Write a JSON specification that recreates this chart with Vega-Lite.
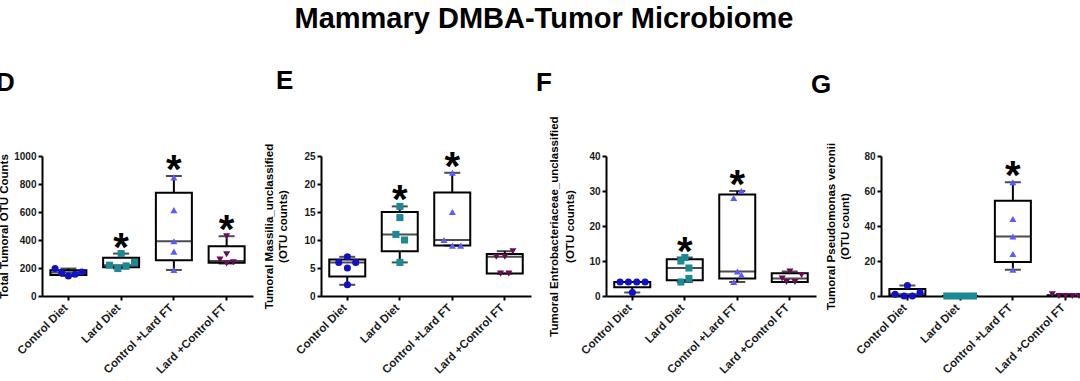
{
  "$schema": "https://vega.github.io/schema/vega-lite/v6.json",
  "padding": {"left": -4, "top": 5, "right": 0, "bottom": 0},
  "background": "white",
  "title": {"text": "Mammary DMBA-Tumor Microbiome", "font": "Liberation Sans", "fontSize": 29, "fontWeight": "bold", "color": "black", "anchor": "middle", "offset": 34},
  "datasets": {
    "boxes": [
      {"panel": "D", "group": "Control Diet", "min": 143, "q1": 150, "median": 167, "q3": 184, "max": 196, "sig": ""},
      {"panel": "D", "group": "Lard Diet", "min": 196, "q1": 205, "median": 220, "q3": 274, "max": 303, "sig": "*"},
      {"panel": "D", "group": "Control +Lard FT", "min": 186, "q1": 255, "median": 391, "q3": 737, "max": 857, "sig": "*"},
      {"panel": "D", "group": "Lard +Control FT", "min": 232, "q1": 238, "median": 250, "q3": 356, "max": 427, "sig": "*"},
      {"panel": "E", "group": "Control Diet", "min": 2, "q1": 3.5, "median": 6, "q3": 6.5, "max": 7, "sig": ""},
      {"panel": "E", "group": "Lard Diet", "min": 6, "q1": 8, "median": 11, "q3": 15, "max": 16, "sig": "*"},
      {"panel": "E", "group": "Control +Lard FT", "min": 9, "q1": 9, "median": 10, "q3": 18.5, "max": 22, "sig": "*"},
      {"panel": "E", "group": "Lard +Control FT", "min": 4, "q1": 4, "median": 7, "q3": 7.5, "max": 8, "sig": ""},
      {"panel": "F", "group": "Control Diet", "min": 1, "q1": 2.5, "median": 4, "q3": 4, "max": 4, "sig": ""},
      {"panel": "F", "group": "Lard Diet", "min": 4, "q1": 4.5, "median": 8, "q3": 10.5, "max": 11, "sig": "*"},
      {"panel": "F", "group": "Control +Lard FT", "min": 4, "q1": 5, "median": 7, "q3": 29, "max": 30, "sig": "*"},
      {"panel": "F", "group": "Lard +Control FT", "min": 4, "q1": 4, "median": 5, "q3": 6.5, "max": 7, "sig": ""},
      {"panel": "G", "group": "Control Diet", "min": 0, "q1": 0, "median": 1, "q3": 4, "max": 6, "sig": ""},
      {"panel": "G", "group": "Lard Diet", "min": 0, "q1": 0, "median": 0, "q3": 0, "max": 0, "sig": ""},
      {"panel": "G", "group": "Control +Lard FT", "min": 15, "q1": 19.5, "median": 34, "q3": 54.5, "max": 65, "sig": "*"},
      {"panel": "G", "group": "Lard +Control FT", "min": 0, "q1": 0, "median": 0, "q3": 0.5, "max": 1, "sig": ""}
    ],
    "pts": [
      {"panel": "D", "group": "Control Diet", "value": 196, "col": -2},
      {"panel": "D", "group": "Control Diet", "value": 167, "col": -1},
      {"panel": "D", "group": "Control Diet", "value": 143, "col": 0},
      {"panel": "D", "group": "Control Diet", "value": 155, "col": 1},
      {"panel": "D", "group": "Control Diet", "value": 172, "col": 2},
      {"panel": "D", "group": "Lard Diet", "value": 220, "col": -1.75},
      {"panel": "D", "group": "Lard Diet", "value": 196, "col": -0.5},
      {"panel": "D", "group": "Lard Diet", "value": 303, "col": 0},
      {"panel": "D", "group": "Lard Diet", "value": 215, "col": 0.75},
      {"panel": "D", "group": "Lard Diet", "value": 239, "col": 2},
      {"panel": "D", "group": "Control +Lard FT", "value": 847, "col": 0},
      {"panel": "D", "group": "Control +Lard FT", "value": 613, "col": 0},
      {"panel": "D", "group": "Control +Lard FT", "value": 391, "col": 0},
      {"panel": "D", "group": "Control +Lard FT", "value": 317, "col": 0},
      {"panel": "D", "group": "Control +Lard FT", "value": 186, "col": 0},
      {"panel": "D", "group": "Lard +Control FT", "value": 427, "col": 0},
      {"panel": "D", "group": "Lard +Control FT", "value": 298, "col": 0},
      {"panel": "D", "group": "Lard +Control FT", "value": 260, "col": -1},
      {"panel": "D", "group": "Lard +Control FT", "value": 232, "col": 0},
      {"panel": "D", "group": "Lard +Control FT", "value": 241, "col": 1},
      {"panel": "E", "group": "Control Diet", "value": 6, "col": -1.3},
      {"panel": "E", "group": "Control Diet", "value": 7, "col": 0},
      {"panel": "E", "group": "Control Diet", "value": 5, "col": 0},
      {"panel": "E", "group": "Control Diet", "value": 6, "col": 1.25},
      {"panel": "E", "group": "Control Diet", "value": 2, "col": 0},
      {"panel": "E", "group": "Lard Diet", "value": 16, "col": 0},
      {"panel": "E", "group": "Lard Diet", "value": 14, "col": 0},
      {"panel": "E", "group": "Lard Diet", "value": 11, "col": -0.6},
      {"panel": "E", "group": "Lard Diet", "value": 10, "col": 0.7},
      {"panel": "E", "group": "Lard Diet", "value": 6, "col": 0},
      {"panel": "E", "group": "Control +Lard FT", "value": 22, "col": 0},
      {"panel": "E", "group": "Control +Lard FT", "value": 15, "col": 0},
      {"panel": "E", "group": "Control +Lard FT", "value": 10, "col": -1.25},
      {"panel": "E", "group": "Control +Lard FT", "value": 9, "col": 0},
      {"panel": "E", "group": "Control +Lard FT", "value": 9, "col": 1.25},
      {"panel": "E", "group": "Lard +Control FT", "value": 7, "col": -1.3},
      {"panel": "E", "group": "Lard +Control FT", "value": 7, "col": 0},
      {"panel": "E", "group": "Lard +Control FT", "value": 8, "col": 1.2},
      {"panel": "E", "group": "Lard +Control FT", "value": 4, "col": -0.65},
      {"panel": "E", "group": "Lard +Control FT", "value": 4, "col": 0.6},
      {"panel": "F", "group": "Control Diet", "value": 4, "col": -1.85},
      {"panel": "F", "group": "Control Diet", "value": 4, "col": -0.6},
      {"panel": "F", "group": "Control Diet", "value": 4, "col": 0.65},
      {"panel": "F", "group": "Control Diet", "value": 4, "col": 1.9},
      {"panel": "F", "group": "Control Diet", "value": 1, "col": 0},
      {"panel": "F", "group": "Lard Diet", "value": 10, "col": -0.6},
      {"panel": "F", "group": "Lard Diet", "value": 11, "col": 0},
      {"panel": "F", "group": "Lard Diet", "value": 8, "col": 0.6},
      {"panel": "F", "group": "Lard Diet", "value": 4, "col": -0.6},
      {"panel": "F", "group": "Lard Diet", "value": 5, "col": 0.6},
      {"panel": "F", "group": "Control +Lard FT", "value": 28, "col": -0.55},
      {"panel": "F", "group": "Control +Lard FT", "value": 30, "col": 0.6},
      {"panel": "F", "group": "Control +Lard FT", "value": 7, "col": 0},
      {"panel": "F", "group": "Control +Lard FT", "value": 6, "col": 0.6},
      {"panel": "F", "group": "Control +Lard FT", "value": 4, "col": -0.55},
      {"panel": "F", "group": "Lard +Control FT", "value": 5, "col": -1.15},
      {"panel": "F", "group": "Lard +Control FT", "value": 7, "col": 0},
      {"panel": "F", "group": "Lard +Control FT", "value": 6, "col": 1.75},
      {"panel": "F", "group": "Lard +Control FT", "value": 4, "col": -0.5},
      {"panel": "F", "group": "Lard +Control FT", "value": 4, "col": 0.75},
      {"panel": "G", "group": "Control Diet", "value": 1, "col": -1.85},
      {"panel": "G", "group": "Control Diet", "value": 0, "col": -0.5},
      {"panel": "G", "group": "Control Diet", "value": 0, "col": 0.75},
      {"panel": "G", "group": "Control Diet", "value": 2, "col": 1.9},
      {"panel": "G", "group": "Control Diet", "value": 6, "col": 0},
      {"panel": "G", "group": "Lard Diet", "value": 0, "col": -2},
      {"panel": "G", "group": "Lard Diet", "value": 0, "col": -1},
      {"panel": "G", "group": "Lard Diet", "value": 0, "col": 0},
      {"panel": "G", "group": "Lard Diet", "value": 0, "col": 1},
      {"panel": "G", "group": "Lard Diet", "value": 0, "col": 2},
      {"panel": "G", "group": "Control +Lard FT", "value": 65, "col": 0},
      {"panel": "G", "group": "Control +Lard FT", "value": 44, "col": 0},
      {"panel": "G", "group": "Control +Lard FT", "value": 34, "col": 0},
      {"panel": "G", "group": "Control +Lard FT", "value": 24, "col": 0},
      {"panel": "G", "group": "Control +Lard FT", "value": 15, "col": 0},
      {"panel": "G", "group": "Lard +Control FT", "value": 1, "col": -2},
      {"panel": "G", "group": "Lard +Control FT", "value": 0, "col": -1},
      {"panel": "G", "group": "Lard +Control FT", "value": 0, "col": 0},
      {"panel": "G", "group": "Lard +Control FT", "value": 0, "col": 1},
      {"panel": "G", "group": "Lard +Control FT", "value": 0, "col": 2}
    ]
  },
  "bounds": "flush",
  "spacing": 0,
  "hconcat": [
    {
      "width": 211, "height": 140,
      "title": {"text": "D", "anchor": "start", "frame": "group", "fontSize": 26, "fontWeight": "bold", "color": "black", "dx": -46, "offset": 55},
      "encoding": {"x": {"field": "group", "type": "nominal", "sort": ["Control Diet", "Lard Diet", "Control +Lard FT", "Lard +Control FT"], "scale": {"type": "band", "paddingInner": 0, "paddingOuter": 0}, "axis": {"title": null}}},
      "layer": [
        {"data": {"name": "boxes"}, "transform": [{"filter": "datum.panel === 'D'"}], "mark": {"type": "rule", "color": "black", "strokeWidth": 2},
         "encoding": {"y": {"field": "min", "type": "quantitative", "scale": {"domain": [0, 1000], "nice": false}, "axis": {"values": [0, 200, 400, 600, 800, 1000], "format": "d", "tickCount": 10, "labelOverlap": false, "titleX": -33}, "title": "Total Tumoral OTU Counts"}, "y2": {"field": "max"}}},
        {"data": {"name": "boxes"}, "transform": [{"filter": "datum.panel === 'D'"}], "mark": {"type": "bar", "fill": "white", "stroke": "black", "strokeWidth": 2, "size": 36},
         "encoding": {"y": {"field": "q1", "type": "quantitative", "title": "Total Tumoral OTU Counts"}, "y2": {"field": "q3"}}},
        {"data": {"name": "boxes"}, "transform": [{"filter": "datum.panel === 'D'"}], "mark": {"type": "tick", "color": "black", "thickness": 2, "size": 36},
         "encoding": {"y": {"field": "median", "type": "quantitative", "title": "Total Tumoral OTU Counts"}}},
        {"data": {"name": "boxes"}, "transform": [{"filter": "datum.panel === 'D'"}], "mark": {"type": "tick", "color": "black", "thickness": 2, "size": 16},
         "encoding": {"y": {"field": "max", "type": "quantitative", "title": "Total Tumoral OTU Counts"}}},
        {"data": {"name": "boxes"}, "transform": [{"filter": "datum.panel === 'D'"}], "mark": {"type": "tick", "color": "black", "thickness": 2, "size": 16},
         "encoding": {"y": {"field": "min", "type": "quantitative", "title": "Total Tumoral OTU Counts"}}},
        {"data": {"name": "pts"}, "transform": [{"filter": "datum.panel === 'D'"}], "mark": {"type": "point", "filled": true, "size": 50, "opacity": 1},
         "encoding": {"y": {"field": "value", "type": "quantitative", "title": "Total Tumoral OTU Counts"},
                      "xOffset": {"field": "col", "type": "quantitative", "scale": {"domain": [-3, 3], "range": [6.4, 46.4]}},
                      "color": {"field": "group", "type": "nominal", "scale": {"domain": ["Control Diet", "Lard Diet", "Control +Lard FT", "Lard +Control FT"], "range": ["#1010c8", "#1a8a96", "#5a5aff", "#6a0a5a"]}, "legend": null},
                      "shape": {"field": "group", "type": "nominal", "scale": {"domain": ["Control Diet", "Lard Diet", "Control +Lard FT", "Lard +Control FT"], "range": ["circle", "square", "triangle-up", "triangle-down"]}, "legend": null}}},
        {"data": {"name": "boxes"}, "transform": [{"filter": "datum.panel === 'D' && datum.sig !== ''"}], "mark": {"type": "text", "fontSize": 40, "fontWeight": "bold", "color": "black", "baseline": "alphabetic", "dy": 7},
         "encoding": {"y": {"field": "max", "type": "quantitative", "title": "Total Tumoral OTU Counts"}, "text": {"field": "sig"}}}
      ]
    },
    {"width": 68, "height": 140, "data": {"values": []}, "mark": "point"},
    {
      "width": 210, "height": 140,
      "title": {"text": "E", "anchor": "start", "frame": "group", "fontSize": 26, "fontWeight": "bold", "color": "black", "dx": -45, "offset": 49},
      "encoding": {"x": {"field": "group", "type": "nominal", "sort": ["Control Diet", "Lard Diet", "Control +Lard FT", "Lard +Control FT"], "scale": {"type": "band", "paddingInner": 0, "paddingOuter": 0}, "axis": {"title": null}}},
      "layer": [
        {"data": {"name": "boxes"}, "transform": [{"filter": "datum.panel === 'E'"}], "mark": {"type": "rule", "color": "black", "strokeWidth": 2},
         "encoding": {"y": {"field": "min", "type": "quantitative", "scale": {"domain": [0, 25], "nice": false}, "axis": {"values": [0, 5, 10, 15, 20, 25], "tickCount": 10, "labelOverlap": false, "titleX": -47}, "title": ["Tumoral Massilia_unclassified", "(OTU counts)"]}, "y2": {"field": "max"}}},
        {"data": {"name": "boxes"}, "transform": [{"filter": "datum.panel === 'E'"}], "mark": {"type": "bar", "fill": "white", "stroke": "black", "strokeWidth": 2, "size": 36},
         "encoding": {"y": {"field": "q1", "type": "quantitative", "title": ["Tumoral Massilia_unclassified", "(OTU counts)"]}, "y2": {"field": "q3"}}},
        {"data": {"name": "boxes"}, "transform": [{"filter": "datum.panel === 'E'"}], "mark": {"type": "tick", "color": "black", "thickness": 2, "size": 36},
         "encoding": {"y": {"field": "median", "type": "quantitative", "title": ["Tumoral Massilia_unclassified", "(OTU counts)"]}}},
        {"data": {"name": "boxes"}, "transform": [{"filter": "datum.panel === 'E'"}], "mark": {"type": "tick", "color": "black", "thickness": 2, "size": 16},
         "encoding": {"y": {"field": "max", "type": "quantitative", "title": ["Tumoral Massilia_unclassified", "(OTU counts)"]}}},
        {"data": {"name": "boxes"}, "transform": [{"filter": "datum.panel === 'E'"}], "mark": {"type": "tick", "color": "black", "thickness": 2, "size": 16},
         "encoding": {"y": {"field": "min", "type": "quantitative", "title": ["Tumoral Massilia_unclassified", "(OTU counts)"]}}},
        {"data": {"name": "pts"}, "transform": [{"filter": "datum.panel === 'E'"}], "mark": {"type": "point", "filled": true, "size": 50, "opacity": 1},
         "encoding": {"y": {"field": "value", "type": "quantitative", "title": ["Tumoral Massilia_unclassified", "(OTU counts)"]},
                      "xOffset": {"field": "col", "type": "quantitative", "scale": {"domain": [-3, 3], "range": [6.25, 46.25]}},
                      "color": {"field": "group", "type": "nominal", "legend": null},
                      "shape": {"field": "group", "type": "nominal", "legend": null}}},
        {"data": {"name": "boxes"}, "transform": [{"filter": "datum.panel === 'E' && datum.sig !== ''"}], "mark": {"type": "text", "fontSize": 40, "fontWeight": "bold", "color": "black", "baseline": "alphabetic", "dy": 7},
         "encoding": {"y": {"field": "max", "type": "quantitative", "title": ["Tumoral Massilia_unclassified", "(OTU counts)"]}, "text": {"field": "sig"}}}
      ]
    },
    {"width": 75, "height": 140, "data": {"values": []}, "mark": "point"},
    {
      "width": 210, "height": 140,
      "title": {"text": "F", "anchor": "start", "frame": "group", "fontSize": 26, "fontWeight": "bold", "color": "black", "dx": -70, "offset": 20},
      "encoding": {"x": {"field": "group", "type": "nominal", "sort": ["Control Diet", "Lard Diet", "Control +Lard FT", "Lard +Control FT"], "scale": {"type": "band", "paddingInner": 0, "paddingOuter": 0}, "axis": {"title": null}}},
      "layer": [
        {"data": {"name": "boxes"}, "transform": [{"filter": "datum.panel === 'F'"}], "mark": {"type": "rule", "color": "black", "strokeWidth": 2},
         "encoding": {"y": {"field": "min", "type": "quantitative", "scale": {"domain": [0, 40], "nice": false}, "axis": {"values": [0, 10, 20, 30, 40], "tickCount": 10, "labelOverlap": false, "titleX": -47, "titleLineHeight": 16}, "title": ["Tumoral Entrobacteriaceae_unclassified", "(OTU counts)"]}, "y2": {"field": "max"}}},
        {"data": {"name": "boxes"}, "transform": [{"filter": "datum.panel === 'F'"}], "mark": {"type": "bar", "fill": "white", "stroke": "black", "strokeWidth": 2, "size": 36},
         "encoding": {"y": {"field": "q1", "type": "quantitative", "title": ["Tumoral Entrobacteriaceae_unclassified", "(OTU counts)"]}, "y2": {"field": "q3"}}},
        {"data": {"name": "boxes"}, "transform": [{"filter": "datum.panel === 'F'"}], "mark": {"type": "tick", "color": "black", "thickness": 2, "size": 36},
         "encoding": {"y": {"field": "median", "type": "quantitative", "title": ["Tumoral Entrobacteriaceae_unclassified", "(OTU counts)"]}}},
        {"data": {"name": "boxes"}, "transform": [{"filter": "datum.panel === 'F'"}], "mark": {"type": "tick", "color": "black", "thickness": 2, "size": 16},
         "encoding": {"y": {"field": "max", "type": "quantitative", "title": ["Tumoral Entrobacteriaceae_unclassified", "(OTU counts)"]}}},
        {"data": {"name": "boxes"}, "transform": [{"filter": "datum.panel === 'F'"}], "mark": {"type": "tick", "color": "black", "thickness": 2, "size": 16},
         "encoding": {"y": {"field": "min", "type": "quantitative", "title": ["Tumoral Entrobacteriaceae_unclassified", "(OTU counts)"]}}},
        {"data": {"name": "pts"}, "transform": [{"filter": "datum.panel === 'F'"}], "mark": {"type": "point", "filled": true, "size": 50, "opacity": 1},
         "encoding": {"y": {"field": "value", "type": "quantitative", "title": ["Tumoral Entrobacteriaceae_unclassified", "(OTU counts)"]},
                      "xOffset": {"field": "col", "type": "quantitative", "scale": {"domain": [-3, 3], "range": [6.25, 46.25]}},
                      "color": {"field": "group", "type": "nominal", "legend": null},
                      "shape": {"field": "group", "type": "nominal", "legend": null}}},
        {"data": {"name": "boxes"}, "transform": [{"filter": "datum.panel === 'F' && datum.sig !== ''"}], "mark": {"type": "text", "fontSize": 40, "fontWeight": "bold", "color": "black", "baseline": "alphabetic", "dy": 7},
         "encoding": {"y": {"field": "max", "type": "quantitative", "title": ["Tumoral Entrobacteriaceae_unclassified", "(OTU counts)"]}, "text": {"field": "sig"}}}
      ]
    },
    {"width": 65, "height": 140, "data": {"values": []}, "mark": "point"},
    {
      "width": 211, "height": 140,
      "title": {"text": "G", "anchor": "start", "frame": "group", "fontSize": 26, "fontWeight": "bold", "color": "black", "dx": -70, "offset": 44},
      "encoding": {"x": {"field": "group", "type": "nominal", "sort": ["Control Diet", "Lard Diet", "Control +Lard FT", "Lard +Control FT"], "scale": {"type": "band", "paddingInner": 0, "paddingOuter": 0}, "axis": {"title": null}}},
      "layer": [
        {"data": {"name": "boxes"}, "transform": [{"filter": "datum.panel === 'G'"}], "mark": {"type": "rule", "color": "black", "strokeWidth": 2},
         "encoding": {"y": {"field": "min", "type": "quantitative", "scale": {"domain": [0, 80], "nice": false}, "axis": {"values": [0, 20, 40, 60, 80], "tickCount": 10, "labelOverlap": false, "titleX": -45}, "title": ["Tumoral Pseudomonas veronii", "(OTU count)"]}, "y2": {"field": "max"}}},
        {"data": {"name": "boxes"}, "transform": [{"filter": "datum.panel === 'G'"}], "mark": {"type": "bar", "fill": "white", "stroke": "black", "strokeWidth": 2, "size": 36},
         "encoding": {"y": {"field": "q1", "type": "quantitative", "title": ["Tumoral Pseudomonas veronii", "(OTU count)"]}, "y2": {"field": "q3"}}},
        {"data": {"name": "boxes"}, "transform": [{"filter": "datum.panel === 'G'"}], "mark": {"type": "tick", "color": "black", "thickness": 2, "size": 36},
         "encoding": {"y": {"field": "median", "type": "quantitative", "title": ["Tumoral Pseudomonas veronii", "(OTU count)"]}}},
        {"data": {"name": "boxes"}, "transform": [{"filter": "datum.panel === 'G'"}], "mark": {"type": "tick", "color": "black", "thickness": 2, "size": 16},
         "encoding": {"y": {"field": "max", "type": "quantitative", "title": ["Tumoral Pseudomonas veronii", "(OTU count)"]}}},
        {"data": {"name": "boxes"}, "transform": [{"filter": "datum.panel === 'G'"}], "mark": {"type": "tick", "color": "black", "thickness": 2, "size": 16},
         "encoding": {"y": {"field": "min", "type": "quantitative", "title": ["Tumoral Pseudomonas veronii", "(OTU count)"]}}},
        {"data": {"name": "pts"}, "transform": [{"filter": "datum.panel === 'G'"}], "mark": {"type": "point", "filled": true, "size": 50, "opacity": 1},
         "encoding": {"y": {"field": "value", "type": "quantitative", "title": ["Tumoral Pseudomonas veronii", "(OTU count)"]},
                      "xOffset": {"field": "col", "type": "quantitative", "scale": {"domain": [-3, 3], "range": [6.4, 46.4]}},
                      "color": {"field": "group", "type": "nominal", "legend": null},
                      "shape": {"field": "group", "type": "nominal", "legend": null}}},
        {"data": {"name": "boxes"}, "transform": [{"filter": "datum.panel === 'G' && datum.sig !== ''"}], "mark": {"type": "text", "fontSize": 40, "fontWeight": "bold", "color": "black", "baseline": "alphabetic", "dy": 7},
         "encoding": {"y": {"field": "max", "type": "quantitative", "title": ["Tumoral Pseudomonas veronii", "(OTU count)"]}, "text": {"field": "sig"}}}
      ]
    }
  ],
  "config": {
    "font": "Liberation Sans",
    "view": {"stroke": null},
    "axis": {"grid": false, "domainColor": "black", "domainWidth": 2, "tickColor": "black", "tickWidth": 2, "tickSize": 4, "labelOverlap": false,
             "labelFont": "Liberation Sans", "labelFontWeight": "bold", "labelFontSize": 10, "labelColor": "#1a1a1a", "labelPadding": 2,
             "titleFont": "Liberation Sans", "titleFontWeight": "bold", "titleFontSize": 11.5, "titleColor": "black", "titleLineHeight": 14, "titleBaseline": "bottom"},
    "axisX": {"labelAngle": -45, "labelAlign": "right", "labelBaseline": "middle", "labelPadding": 6, "labelOffset": -2, "labelFontSize": 11.5},
    "title": {"font": "Liberation Sans"}
  }
}
